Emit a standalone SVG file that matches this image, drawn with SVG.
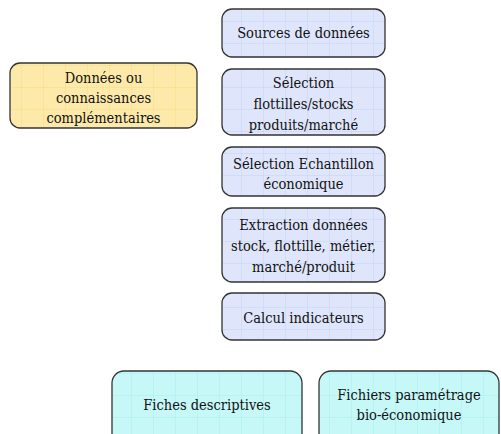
<svg xmlns="http://www.w3.org/2000/svg" width="501" height="434" viewBox="0 0 501 434">
  <defs>
    <pattern id="gridBlue" width="22" height="22" patternUnits="userSpaceOnUse">
      <rect width="22" height="22" fill="#dfe6fb"/>
      <path d="M22 0V22M0 22H22" fill="none" stroke="#c4d2f5" stroke-width="1"/>
    </pattern>
    <pattern id="gridYellow" width="22" height="22" patternUnits="userSpaceOnUse">
      <rect width="22" height="22" fill="#fdeaaa"/>
      <path d="M22 0V22M0 22H22" fill="none" stroke="#fadc80" stroke-width="1"/>
    </pattern>
    <pattern id="gridCyan" width="22" height="22" patternUnits="userSpaceOnUse">
      <rect width="22" height="22" fill="#c6f8f8"/>
      <path d="M22 0V22M0 22H22" fill="none" stroke="#a8eef0" stroke-width="1"/>
    </pattern>
  </defs>
  <style>
    .box { stroke: #333; stroke-width: 1.3; }
    .blue { fill: url(#gridBlue); }
    .yellow { fill: url(#gridYellow); }
    .cyan { fill: url(#gridCyan); }
    .lbl { font-family: "DejaVu Serif Condensed", "DejaVu Serif", serif; font-stretch: condensed; font-size: 14.5px; fill: #111; text-anchor: middle; }
  </style>
  <rect width="501" height="434" fill="#ffffff"/>

  <g id="sources">
    <rect class="box blue" x="222" y="9" width="163" height="48" rx="10"/>
    <text class="lbl" x="303.5" y="38">Sources de données</text>
  </g>
  <g id="selection-flottilles">
    <rect class="box blue" x="222" y="69" width="163" height="66" rx="10"/>
    <text class="lbl" x="303.5" y="88">Sélection</text>
    <text class="lbl" x="303.5" y="109">flottilles/stocks</text>
    <text class="lbl" x="303.5" y="130">produits/marché</text>
  </g>
  <g id="donnees-complementaires">
    <rect class="box yellow" x="10" y="63" width="187" height="65" rx="10"/>
    <text class="lbl" x="103.5" y="83">Données ou</text>
    <text class="lbl" x="103.5" y="103">connaissances</text>
    <text class="lbl" x="103.5" y="123">complémentaires</text>
  </g>
  <g id="selection-echantillon">
    <rect class="box blue" x="222" y="147" width="163" height="49" rx="10"/>
    <text class="lbl" x="303.5" y="169">Sélection Echantillon</text>
    <text class="lbl" x="303.5" y="189">économique</text>
  </g>
  <g id="extraction">
    <rect class="box blue" x="222" y="208" width="163" height="74" rx="10"/>
    <text class="lbl" x="303.5" y="230">Extraction données</text>
    <text class="lbl" x="303.5" y="251">stock, flottille, métier,</text>
    <text class="lbl" x="303.5" y="272">marché/produit</text>
  </g>
  <g id="calcul">
    <rect class="box blue" x="222" y="293" width="163" height="47" rx="10"/>
    <text class="lbl" x="303.5" y="323">Calcul indicateurs</text>
  </g>
  <g id="fiches">
    <rect class="box cyan" x="112" y="371" width="190" height="75" rx="12"/>
    <text class="lbl" x="207" y="410">Fiches descriptives</text>
  </g>
  <g id="fichiers">
    <rect class="box cyan" x="319" y="371" width="180" height="75" rx="12"/>
    <text class="lbl" x="409" y="400">Fichiers paramétrage</text>
    <text class="lbl" x="409" y="420">bio-économique</text>
  </g>
  <g id="connectors"></g>
</svg>
